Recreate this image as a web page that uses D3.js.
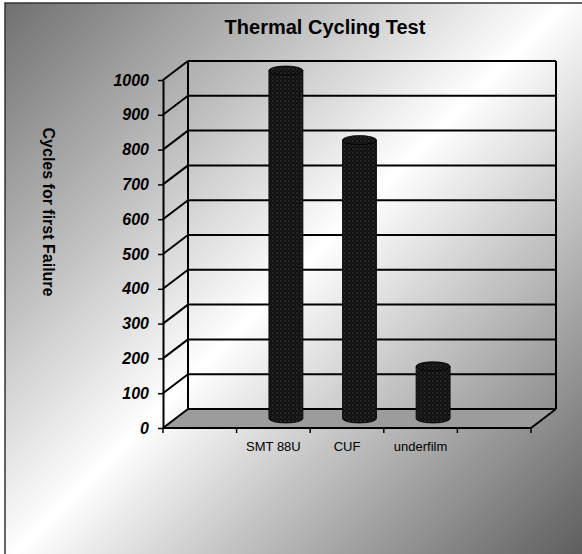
<!DOCTYPE html>
<html>
<head>
<meta charset="utf-8">
<script src="https://cdn.jsdelivr.net/npm/d3@7"></script>
<style>
  body { margin: 0; background: #fff; }
  svg { display: block; font-family: Arial, "Liberation Sans", sans-serif; }
</style>
</head>
<body>
<svg class="chart" width="582" height="554"></svg>
<script>
// data (first and last slots are empty categories)
var categories = ["", "SMT 88U", "CUF", "underfilm", ""];
var cycles = [null, 1000, 800, 150, null];
var yTicks = [0, 100, 200, 300, 400, 500, 600, 700, 800, 900, 1000];

var svg = d3.select(".chart"),
    width = +svg.attr("width"),
    height = +svg.attr("height");

// 3d depth offset of the back wall
var dx = 25, dy = -19;

var x = d3.scaleBand()
  .domain(d3.range(categories.length))
  .range([163, 531]);

var y = d3.scaleLinear()
  .domain([0, 1000])
  .range([428, 80]);

var defs = svg.append("defs");

var bg = defs.append("linearGradient")
  .attr("id", "bg")
  .attr("gradientUnits", "userSpaceOnUse")
  .attr("x1", 0).attr("y1", 0)
  .attr("x2", 568).attr("y2", 568);
bg.append("stop").attr("offset", "0").attr("stop-color", "#6e6e6e");
bg.append("stop").attr("offset", "0.5").attr("stop-color", "#ffffff");
bg.append("stop").attr("offset", "1").attr("stop-color", "#5e5e5e");

// dotted texture of the cylinders
var pat = defs.append("pattern")
  .attr("id", "dots")
  .attr("patternUnits", "userSpaceOnUse")
  .attr("width", 4).attr("height", 4);
pat.append("rect").attr("width", 4).attr("height", 4).attr("fill", "#111");
pat.append("circle").attr("cx", 1).attr("cy", 1).attr("r", 0.6).attr("fill", "#6a6a6a");
pat.append("circle").attr("cx", 3).attr("cy", 3).attr("r", 0.5).attr("fill", "#3a3a3a");

//Background + frame
svg.append("rect")
  .attr("x", 5).attr("y", 3)
  .attr("width", width - 5).attr("height", height - 3)
  .attr("fill", "url(#bg)");

svg.append("path")
  .attr("d", "M5," + height + "V3H" + width)
  .attr("fill", "none")
  .attr("stroke", "#333")
  .attr("stroke-width", 1.5);

//Title
svg.append("text")
  .attr("x", 325).attr("y", 34)
  .attr("text-anchor", "middle")
  .attr("font-size", "20px")
  .attr("font-weight", "bold")
  .text("Thermal Cycling Test");

var x0 = x.range()[0], x1 = x.range()[1];
var yb = y(0), yt = y(1000);

//Floor
svg.append("polygon")
  .attr("points", [[x0, yb], [x0 + dx, yb + dy], [x1 + dx, yb + dy], [x1, yb]].join(" "))
  .attr("fill", "#9c9c9c");

var walls = svg.append("g")
  .attr("stroke", "#000")
  .attr("stroke-width", 2)
  .attr("fill", "none");

// back wall gridlines
walls.selectAll("line.back")
  .data(yTicks)
  .enter().append("line")
  .attr("class", "back")
  .attr("x1", x0 + dx).attr("x2", x1 + dx)
  .attr("y1", function(d) { return y(d) + dy; })
  .attr("y2", function(d) { return y(d) + dy; });

// side wall gridlines
walls.selectAll("line.side")
  .data(yTicks)
  .enter().append("line")
  .attr("class", "side")
  .attr("x1", x0).attr("x2", x0 + dx)
  .attr("y1", function(d) { return y(d); })
  .attr("y2", function(d) { return y(d) + dy; });

walls.append("line")
  .attr("x1", x0 + dx).attr("x2", x0 + dx)
  .attr("y1", yt + dy).attr("y2", yb + dy);
walls.append("line")
  .attr("x1", x1 + dx).attr("x2", x1 + dx)
  .attr("y1", yt + dy).attr("y2", yb + dy);
walls.append("line")
  .attr("x1", x1).attr("x2", x1 + dx)
  .attr("y1", yb).attr("y2", yb + dy);

//Cylinders
var r = 17, ry = 4.5;
var bars = svg.append("g").attr("class", "bars")
  .selectAll("g")
  .data(cycles.map(function(v, i) { return {i: i, v: v}; })
    .filter(function(d) { return d.v != null; }))
  .enter().append("g");

bars.append("path")
  .attr("d", function(d) {
    var cx = x(d.i) + x.bandwidth() / 2 + dx / 2,
        top = y(d.v) + dy / 2,
        bot = y(0) + dy / 2;
    return "M" + (cx - r) + "," + top +
      "V" + bot +
      "A" + r + "," + ry + " 0 0 0 " + (cx + r) + "," + bot +
      "V" + top + "Z";
  })
  .attr("fill", "url(#dots)")
  .attr("stroke", "#000")
  .attr("stroke-width", 0.8);

bars.append("ellipse")
  .attr("cx", function(d) { return x(d.i) + x.bandwidth() / 2 + dx / 2; })
  .attr("cy", function(d) { return y(d.v) + dy / 2; })
  .attr("rx", r).attr("ry", ry)
  .attr("fill", "url(#dots)")
  .attr("stroke", "#000")
  .attr("stroke-width", 0.8);

//Y axis
var yAxis = svg.append("g")
  .attr("transform", "translate(" + [x0, 0] + ")")
  .call(d3.axisLeft(y).tickValues(yTicks).tickFormat(d3.format("d"))
    .tickSize(5).tickSizeOuter(0).tickPadding(9));
yAxis.select(".domain").attr("stroke-width", 2);
yAxis.selectAll(".tick line").attr("stroke-width", 1.5);
yAxis.selectAll("text")
  .attr("font-size", "16px")
  .attr("font-weight", "bold")
  .attr("font-style", "italic")
  .attr("font-family", "Arial, 'Liberation Sans', sans-serif")
  .attr("fill", "#000");

//X axis: floor front edge, ticks at band boundaries
svg.append("line")
  .attr("x1", x0).attr("x2", x1)
  .attr("y1", yb).attr("y2", yb)
  .attr("stroke", "#000").attr("stroke-width", 2);

var bounds = d3.range(categories.length + 1).map(function(i) {
  return i < categories.length ? x(i) : x1;
});
svg.append("g").selectAll("line")
  .data(bounds)
  .enter().append("line")
  .attr("x1", function(d) { return d; })
  .attr("x2", function(d) { return d; })
  .attr("y1", yb).attr("y2", yb + 5)
  .attr("stroke", "#000").attr("stroke-width", 1.5);

svg.append("g").selectAll("text")
  .data(categories)
  .enter().append("text")
  .attr("x", function(d, i) { return x(i) + x.bandwidth() / 2; })
  .attr("y", 451)
  .attr("text-anchor", "middle")
  .attr("font-size", "13px")
  .text(function(d) { return d; });

//Y axis title
svg.append("text")
  .attr("transform", "translate(" + [43, 212] + ") rotate(90)")
  .attr("text-anchor", "middle")
  .attr("font-size", "16px")
  .attr("font-weight", "bold")
  .text("Cycles for first Failure");
</script>
</body>
</html>
